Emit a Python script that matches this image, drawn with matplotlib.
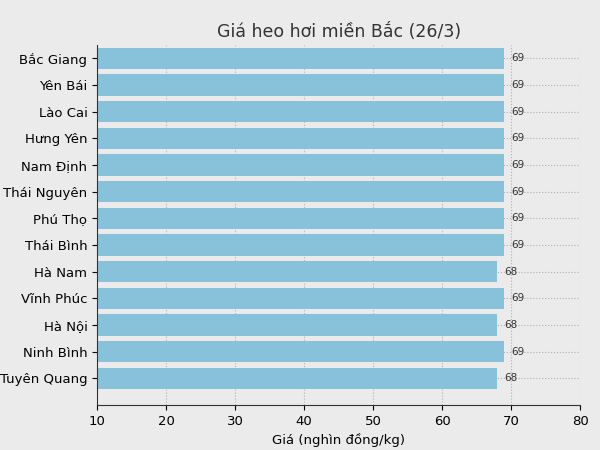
import matplotlib.pyplot as plt

provinces = ['Bắc Giang', 'Yên Bái', 'Lào Cai', 'Hưng Yên', 'Nam Định', 'Thái Nguyên',
             'Phú Thọ', 'Thái Bình', 'Hà Nam', 'Vĩnh Phúc', 'Hà Nội', 'Ninh Bình', 'Tuyên Quang']
prices = [69, 69, 69, 69, 69, 69, 69, 69, 68, 69, 68, 69, 68]

bg = '#ebebeb'
fig = plt.figure(figsize=(6, 4.5), dpi=100, facecolor=bg)
ax = fig.add_axes([0.162, 0.1, 0.805, 0.8], facecolor=bg)

y = list(range(len(provinces)))
ax.barh(y, prices, color='#87c1da', height=0.8, zorder=2)
for yi, v in zip(y, prices):
    ax.text(v + 1, yi, str(v), va='center', fontsize=7.5, color='#333333')

ax.set_yticks(y)
ax.set_yticklabels(provinces, fontsize=9.5)
ax.set_ylim(len(provinces), -0.5)
ax.set_xlim(10, 80)
ax.set_xticks(range(10, 81, 10))
ax.tick_params(axis='x', labelsize=9.5)
ax.set_xlabel('Giá (nghìn đồng/kg)', fontsize=9.5)
ax.set_title('Giá heo hơi miền Bắc (26/3)', fontsize=12.5, color='#333333')
ax.grid(True, linestyle=':', color='#b0b0b0', zorder=0)
for s in ['top', 'right']:
    ax.spines[s].set_visible(False)
ax.spines['left'].set_color('#333333')
ax.spines['bottom'].set_color('#333333')

fig.savefig('out.png', dpi=100, facecolor=bg)
